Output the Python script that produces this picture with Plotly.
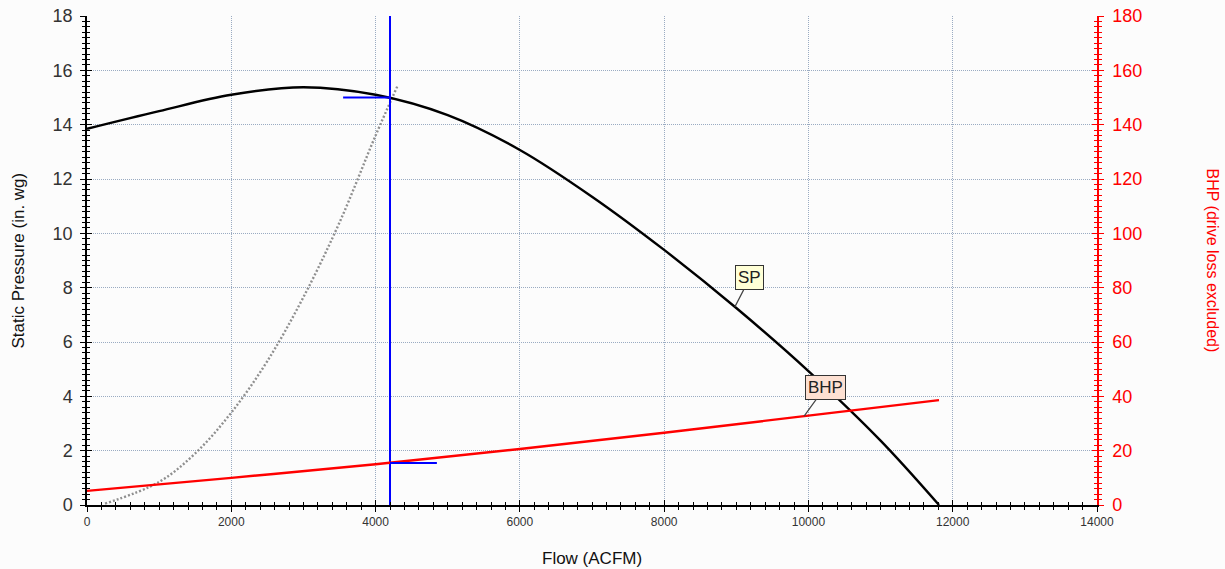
import numpy as np
import plotly.graph_objects as go

# ---- data ----
sp_flow = [0, 1000, 2000, 3000, 4000, 5000, 6000, 7000, 8000, 9000, 10000, 11000, 11810]
sp_vals = [13.85, 14.5, 15.1, 15.38, 15.1, 14.35, 13.07, 11.35, 9.39, 7.25, 4.93, 2.37, 0.0]

bhp_flow = [0, 2000, 4000, 6000, 8000, 10000, 11810]
bhp_vals = [5.2, 10.0, 15.0, 20.6, 26.6, 32.9, 38.6]

sys_flow = [250, 1000, 1500, 2000, 2500, 3000, 3500, 4000, 4300]
sys_vals = [0.05, 0.85, 1.9, 3.4, 5.3, 7.65, 10.4, 13.6, 15.4]

op_flow = 4200
op_sp = 15.0
op_bhp = 15.5
op_tick = 650

x_ticks = [0, 2000, 4000, 6000, 8000, 10000, 12000, 14000]
x_tick_labels = ["0", "2000", "4000", "6000", "8000", "10000", "12000", "14000"]
y_ticks = [0, 2, 4, 6, 8, 10, 12, 14, 16, 18]
y2_ticks = [0, 20, 40, 60, 80, 100, 120, 140, 160, 180]

sp_label_flow = 8980
bhp_label_flow = 9940

FONT = "Liberation Sans, Arial, sans-serif"
GRID = "#9aabc2"
BG = "#fcfcfc"

fig = go.Figure()

fig.add_trace(go.Scatter(x=sys_flow, y=sys_vals, mode="lines",
                         line=dict(color="#8f8f8f", width=2.4, dash="2px,2px", shape="spline"),
                         hoverinfo="skip", showlegend=False))
fig.add_trace(go.Scatter(x=sp_flow, y=sp_vals, mode="lines",
                         line=dict(color="black", width=2.4, shape="spline", smoothing=1.0),
                         showlegend=False, name="SP"))
fig.add_trace(go.Scatter(x=bhp_flow, y=bhp_vals, mode="lines", yaxis="y2",
                         line=dict(color="#ff0000", width=2.4, shape="spline"),
                         showlegend=False, name="BHP"))
# operating point markers
fig.add_trace(go.Scatter(x=[op_flow, op_flow], y=[0, 18], mode="lines",
                         line=dict(color="#0000ff", width=2), showlegend=False, hoverinfo="skip"))
fig.add_trace(go.Scatter(x=[op_flow - op_tick, op_flow], y=[op_sp, op_sp], mode="lines",
                         line=dict(color="#0000ff", width=2), showlegend=False, hoverinfo="skip"))
fig.add_trace(go.Scatter(x=[op_flow, op_flow + op_tick], y=[op_bhp, op_bhp], mode="lines", yaxis="y2",
                         line=dict(color="#0000ff", width=2), showlegend=False, hoverinfo="skip"))
# invisible traces for the inner-tick overlay axes
fig.add_trace(go.Scatter(x=[0], y=[0], xaxis="x2", yaxis="y3", mode="markers",
                         marker=dict(opacity=0), showlegend=False, hoverinfo="skip"))
fig.add_trace(go.Scatter(x=[0], y=[0], xaxis="x2", yaxis="y4", mode="markers",
                         marker=dict(opacity=0), showlegend=False, hoverinfo="skip"))

sp_tip = float(np.interp(sp_label_flow, sp_flow, sp_vals))
bhp_tip = float(np.interp(bhp_label_flow, bhp_flow, bhp_vals))

annotations = [
    dict(x=sp_label_flow, y=sp_tip, xref="x", yref="y", text="SP", showarrow=True,
         arrowhead=0, arrowwidth=1.2, arrowcolor="#444", ax=15, ay=-29,
         bgcolor="#ffffd6", bordercolor="#333", borderwidth=1, borderpad=2,
         font=dict(family=FONT, size=17, color="#222")),
    dict(x=bhp_label_flow, y=bhp_tip, xref="x", yref="y2", text="BHP", showarrow=True,
         arrowhead=0, arrowwidth=1.2, arrowcolor="#444", ax=21, ay=-29,
         bgcolor="#fde0d2", bordercolor="#333", borderwidth=1, borderpad=2,
         font=dict(family=FONT, size=17, color="#222")),
    dict(x=0, y=0.5, xref="paper", yref="paper", text="Static Pressure (in. wg)",
         textangle=-90, showarrow=False, xshift=-69, xanchor="center", yanchor="middle",
         font=dict(family=FONT, size=17, color="#111")),
    dict(x=1, y=0.5, xref="paper", yref="paper", text="BHP (drive loss excluded)",
         textangle=90, showarrow=False, xshift=115, xanchor="center", yanchor="middle",
         font=dict(family=FONT, size=16, color="#ff0000")),
    dict(x=0.5, y=0, xref="paper", yref="paper", text="Flow (ACFM)",
         showarrow=False, yshift=-53, xanchor="center", yanchor="middle",
         font=dict(family=FONT, size=17, color="#111")),
]

fig.update_layout(
    width=1225, height=569,
    autosize=False,
    margin=dict(l=87, r=128, t=16, b=64, autoexpand=False),
    paper_bgcolor=BG, plot_bgcolor=BG,
    font=dict(family=FONT),
    annotations=annotations,
    xaxis=dict(range=[0, 14000], tickvals=x_ticks, ticktext=x_tick_labels, ticks="outside",
               ticklen=5, tickwidth=1,
               tickcolor="#000", showline=True, linecolor="#000", linewidth=1.5,
               showgrid=True, gridcolor=GRID, griddash="1px,1px", gridwidth=1, zeroline=False,
               tickfont=dict(family=FONT, size=12, color="#333"),
               minor=dict(dtick=200, ticks="outside", ticklen=3, tickcolor="#000", showgrid=False)),
    xaxis2=dict(range=[0, 14000], overlaying="x", side="bottom", tickvals=x_ticks,
                ticks="inside", ticklen=5, tickcolor="#000", showticklabels=False,
                showgrid=False, zeroline=False, showline=False,
                minor=dict(dtick=200, ticks="inside", ticklen=3, tickcolor="#000")),
    yaxis=dict(range=[0, 18], tickvals=y_ticks, ticks="outside", ticklen=5, tickwidth=1,
               tickcolor="#000", showline=True, linecolor="#000", linewidth=1.5,
               showgrid=True, gridcolor=GRID, griddash="1px,1px", gridwidth=1, zeroline=False,
               tickfont=dict(family=FONT, size=18, color="#333"), ticklabelstandoff=4,
               minor=dict(dtick=0.2, ticks="outside", ticklen=3, tickcolor="#000", showgrid=False)),
    yaxis2=dict(range=[0, 180], tickvals=y2_ticks, overlaying="y", side="right",
                ticks="outside", ticklen=5, tickwidth=1, tickcolor="#ff0000",
                showline=True, linecolor="#ff0000", linewidth=1.5, showgrid=False, zeroline=False,
                tickfont=dict(family=FONT, size=18, color="#ff0000"), ticklabelstandoff=5,
                minor=dict(dtick=2, ticks="outside", ticklen=3, tickcolor="#ff0000")),
    yaxis3=dict(range=[0, 18], overlaying="y", side="left", tickvals=y_ticks,
                ticks="inside", ticklen=5, tickcolor="#000", showticklabels=False,
                showgrid=False, zeroline=False, showline=False,
                minor=dict(dtick=0.2, ticks="inside", ticklen=3, tickcolor="#000")),
    yaxis4=dict(range=[0, 180], overlaying="y", side="right", tickvals=y2_ticks,
                ticks="inside", ticklen=5, tickcolor="#ff0000", showticklabels=False,
                showgrid=False, zeroline=False, showline=False,
                minor=dict(dtick=2, ticks="inside", ticklen=3, tickcolor="#ff0000")),
)

fig.write_html(
    "out.html",
    config={"displayModeBar": False},
    default_width="1225px",
    default_height="569px",
    post_script="document.body.style.margin='0';document.body.style.overflow='hidden';"
                "document.body.style.background='#fcfcfc';",
)
